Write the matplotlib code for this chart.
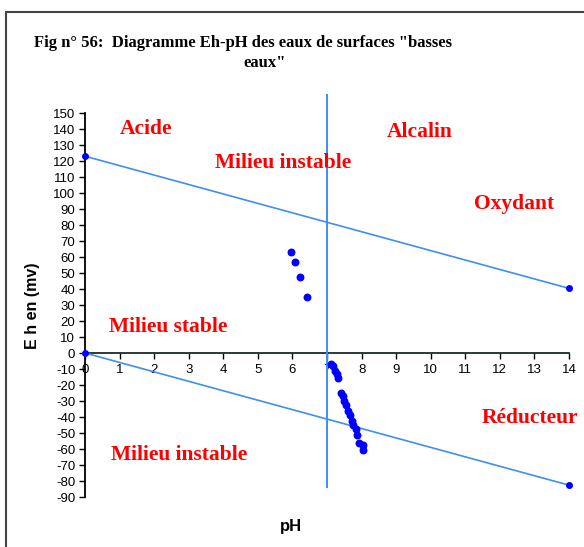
import matplotlib
matplotlib.use("Agg")
import matplotlib.pyplot as plt
from matplotlib.patches import Rectangle

# Water stability limits (Eh in mV vs pH)
upper_ph = [0, 14]
upper_eh = [123, 40.4]
lower_ph = [0, 14]
lower_eh = [0, -82.6]
neutral_ph = [7, 7]
neutral_eh = [161, -84]

# Surface water samples, low-water season
ph_a = [5.96, 6.07, 6.22, 6.43]
eh_a = [63.4, 57.0, 47.5, 34.7]
ph_b = [7.12, 7.18, 7.23, 7.28, 7.31, 7.41, 7.45, 7.49, 7.55, 7.62, 7.67,
        7.71, 7.76, 7.84, 7.86, 7.94, 8.05, 8.03]
eh_b = [-6.7, -8.2, -11.3, -13.4, -15.9, -24.9, -27.0, -29.7, -32.2, -36.4,
        -38.9, -42.3, -44.8, -47.3, -51.0, -56.3, -57.3, -60.5]

x_ticks = list(range(0, 15))
y_ticks = list(range(-90, 151, 10))

W, H = 584, 547
fig = plt.figure(figsize=(W / 100, H / 100), dpi=100)
fig.patch.set_facecolor("white")

# chart frame
fig.patches.append(Rectangle((6 / W, -0.05), 1.0, 1 - 12 / H + 0.05,
                             transform=fig.transFigure, fill=False,
                             edgecolor="#444444", linewidth=1.5))

ax = fig.add_axes([85 / W, (H - 497) / H, 484 / W, 384 / H])
ax.set_xlim(0, 14)
ax.set_ylim(-90, 150)
ax.set_facecolor("none")

line_c = "#3d8ef8"
dot_c = "#0000ff"
ax.plot(upper_ph, upper_eh, color=line_c, lw=1.2, marker="o", ms=4,
        mfc=dot_c, mec=dot_c, clip_on=False, zorder=3)
ax.plot(lower_ph, lower_eh, color=line_c, lw=1.2, marker="o", ms=4,
        mfc=dot_c, mec=dot_c, clip_on=False, zorder=3)
ax.plot(neutral_ph, neutral_eh, color=line_c, lw=1.4, clip_on=False, zorder=3)

ax.scatter(ph_a, eh_a, s=22, color=dot_c, zorder=4, clip_on=False)
ax.scatter(ph_b, eh_b, s=22, color=dot_c, zorder=4, clip_on=False)

for s in ("top", "right"):
    ax.spines[s].set_visible(False)
ax.spines["left"].set_position(("data", 0))
ax.spines["bottom"].set_position(("data", 0))
ax.spines["left"].set_color("black")
ax.spines["bottom"].set_color("#1a2a2a")
ax.spines["left"].set_linewidth(1.3)
ax.spines["bottom"].set_linewidth(1.3)

ax.set_xticks(x_ticks)
ax.set_yticks(y_ticks)
ax.set_xticklabels([str(v) for v in x_ticks])
ax.set_yticklabels([str(v) for v in y_ticks])
ax.tick_params(axis="both", direction="out", length=4, width=1,
               labelsize=9.5, colors="black")
ax.tick_params(axis="x", pad=4)
ax.tick_params(axis="y", pad=3)
for lab in ax.get_xticklabels() + ax.get_yticklabels():
    lab.set_fontfamily("Liberation Sans")

# region labels
red_kw = dict(color="red", fontsize=15.5, fontweight="bold",
              family="Liberation Serif", ha="center", va="center")
ax.text(1.76, 140, "Acide", **red_kw)
ax.text(5.73, 118.6, "Milieu instable", **red_kw)
ax.text(9.68, 138, "Alcalin", **red_kw)
ax.text(12.41, 92.9, "Oxydant", **red_kw)
ax.text(2.40, 16.3, "Milieu stable", **red_kw)
ax.text(12.87, -40.9, "Réducteur", **red_kw)
ax.text(2.72, -63.6, "Milieu instable", **red_kw)

# title and axis titles in figure pixels
def fx(px):
    return px / W

def fy(py):
    return 1 - py / H

fig.text(fx(34), fy(43), "Fig n° 56:  Diagramme Eh-pH des eaux de surfaces \"basses",
         family="Liberation Serif", fontweight="bold", fontsize=12,
         ha="left", va="center", color="black")
fig.text(fx(265), fy(63), "eaux\"", family="Liberation Serif",
         fontweight="bold", fontsize=12, ha="center", va="center",
         color="black")
fig.text(fx(32), fy(306), "E h en (mv)", family="Liberation Sans",
         fontweight="bold", fontsize=11.5, rotation=90, ha="center",
         va="center", color="black")
fig.text(fx(291), fy(526), "pH", family="Liberation Sans",
         fontweight="bold", fontsize=12, ha="center", va="center",
         color="black")

fig.savefig("out.png", dpi=100)
